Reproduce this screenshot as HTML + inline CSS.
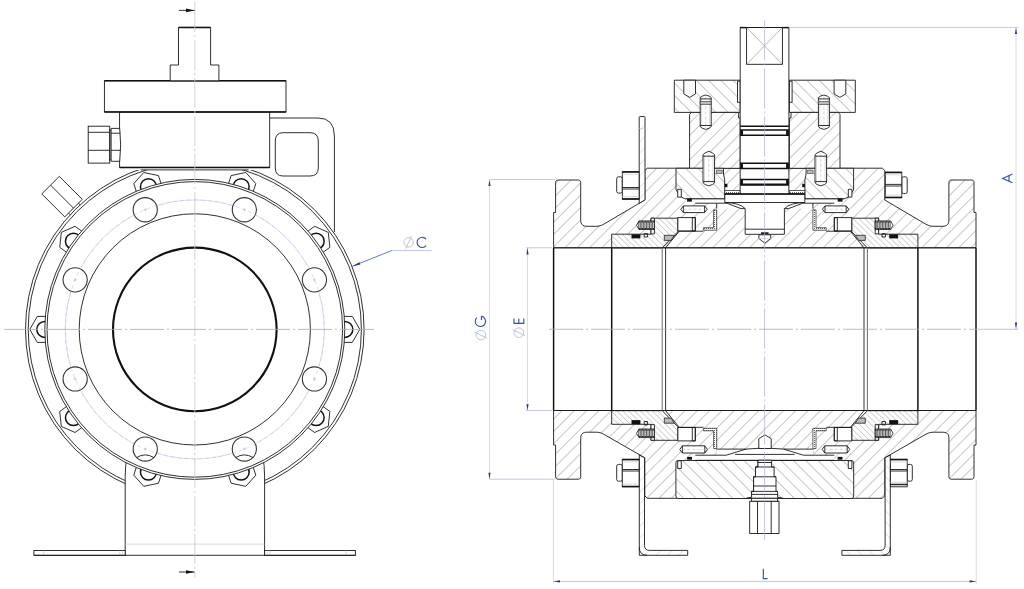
<!DOCTYPE html>
<html><head><meta charset="utf-8"><title>Ball valve drawing</title><style>
html,body{margin:0;padding:0;background:#fff;}
svg{display:block;}
.k{fill:none;stroke:#1a1a1a;stroke-width:0.9}
.kw{fill:#fff;stroke:#1a1a1a;stroke-width:0.9}
.w0{fill:#fff;stroke:none}
.kg{fill:none;stroke:#777;stroke-width:1.1}
.kt{fill:none;stroke:#111;stroke-width:1.5}
.kb{fill:none;stroke:#111;stroke-width:2.1}
.kh{fill:#fff;stroke:#333;stroke-width:1.1}
.kf{fill:#111;stroke:none}
.lg{fill:none;stroke:#c8c8c8;stroke-width:0.7}
.bc{fill:none;stroke:#b6c0e4;stroke-width:0.55}
.bc2{fill:none;stroke:#b4bde0;stroke-width:0.5;stroke-dasharray:4 3}
.bl{fill:none;stroke:#9db0dc;stroke-width:0.6}
.cg{fill:none;stroke:#c8c8cc;stroke-width:0.8;stroke-dasharray:30 3 2 3}
.cv{fill:none;stroke:#a9b0cc;stroke-width:0.7;stroke-dasharray:40 3 2 3}
.cb{fill:none;stroke:#a3a8d2;stroke-width:0.8;stroke-dasharray:34 3 2 3}
.bd{fill:none;stroke:#3b5cab;stroke-width:0.8}
.bx{fill:none;stroke:#b7c4e4;stroke-width:0.9}
.cx{fill:none;stroke:#b4b8dc;stroke-width:0.8}
.dl{fill:none;stroke:#d6d8de;stroke-width:0.9}
.bf{fill:#1e3c8c;stroke:none}
.hA{fill:url(#pA);stroke:#1a1a1a;stroke-width:0.9}
.hB{fill:url(#pB);stroke:#1a1a1a;stroke-width:0.9}
.hS{fill:url(#pS);stroke:#1a1a1a;stroke-width:0.9}
.hC{fill:url(#pC);stroke:#1a1a1a;stroke-width:0.9}
.gb{fill:#bbb;stroke:#333;stroke-width:0.6}
.dt{fill:url(#pD);stroke:#222;stroke-width:0.7}
.sp{fill:#222;stroke:#111;stroke-width:0.6}
.spo{fill:#fff;stroke:#111;stroke-width:0.8}
.spl{stroke:#222;stroke-width:0.75}
.spt{stroke:#111;stroke-width:1.2;stroke-dasharray:0.9 0.65}
.spw{stroke:#ddd;stroke-width:0.6}
.gi{fill:#bbb;stroke:#222;stroke-width:0.8}
.cd{fill:none;stroke:#aab;stroke-width:0.5;stroke-dasharray:3 2}
.lg2{fill:none;stroke:#888;stroke-width:0.6}
.tl{fill:none;stroke:#3b519d;stroke-width:1.15}
.ph{fill:none;stroke:#aeb6cf;stroke-width:0.8}
.tx{font-family:"Liberation Sans",sans-serif;font-size:14px;fill:#2f4f9f}
</style></head>
<body><svg width="1024" height="589" viewBox="0 0 1024 589">
<rect width="1024" height="589" fill="#fff"/>
<defs>
<pattern id="pA" width="8.7" height="20" patternUnits="userSpaceOnUse" patternTransform="rotate(45)"><rect width="8.7" height="20" fill="#fff"/><line x1="0" y1="0" x2="0" y2="20" stroke="#444" stroke-width="0.6"/></pattern>
<pattern id="pB" width="8.7" height="20" patternUnits="userSpaceOnUse" patternTransform="rotate(-45)"><rect width="8.7" height="20" fill="#fff"/><line x1="0" y1="0" x2="0" y2="20" stroke="#444" stroke-width="0.6"/></pattern>
<pattern id="pS" width="4.15" height="20" patternUnits="userSpaceOnUse" patternTransform="rotate(-45)"><rect width="4.15" height="20" fill="#fff"/><line x1="0" y1="0" x2="0" y2="20" stroke="#555" stroke-width="0.55"/></pattern>
<pattern id="pC" width="8" height="20" patternUnits="userSpaceOnUse" patternTransform="rotate(45)"><rect width="8" height="20" fill="#fff"/><line x1="0" y1="0" x2="0" y2="20" stroke="#aaa" stroke-width="0.6"/></pattern>
<pattern id="pD" width="2" height="2" patternUnits="userSpaceOnUse"><rect width="2" height="2" fill="#fff"/><rect width="1" height="1" fill="#666"/></pattern>
<clipPath id="clipTop"><rect x="0" y="169.9" width="1024" height="420"/></clipPath>
</defs>
<polygon points="71.06,215.56 68.23,212.73 78.13,202.83 80.96,205.66" class="kw"/>
<polygon points="64.76,216.9 41.78,193.92 59.32,176.38 82.3,199.36" class="kw"/>
<line x1="73.53" y1="208.13" x2="50.55" y2="185.15" class="k"/>
<path d="M269.5,118 L318,118 Q334.4,118 334.4,136 L334.4,232" class="kw"/>
<path d="M283,132.7 L310,132.7 Q318.3,132.7 318.3,141 L318.3,168 Q318.3,176 310,176 L283,176 Q275.3,176 275.3,168 L275.3,141 Q275.3,132.7 283,132.7 Z" class="k"/>
<g clip-path="url(#clipTop)">
<circle cx="194.8" cy="329.4" r="169.3" class="kw"/>
<circle cx="194.8" cy="329.4" r="166.6" class="k"/>
</g>
<line x1="140.7" y1="169.9" x2="248.6" y2="169.9" class="k"/>
<rect x="125.2" y="440" width="139.4" height="115.3" class="w0"/>
<path d="M127.2,455 Q125.2,466 125.2,476 L125.2,555.3" class="k"/>
<path d="M262.6,455 Q264.6,466 264.6,476 L264.6,555.3" class="k"/>
<line x1="125.2" y1="544.1" x2="264.6" y2="544.1" class="lg"/>
<rect x="33.9" y="550.5" width="91.3" height="4.8" class="kw"/>
<rect x="264.6" y="550.5" width="90.8" height="4.8" class="kw"/>
<line x1="119.8" y1="550.5" x2="119.8" y2="555.3" class="lg"/>
<line x1="122.4" y1="550.5" x2="122.4" y2="555.3" class="lg"/>
<line x1="270" y1="550.5" x2="270" y2="555.3" class="lg"/>
<line x1="267.2" y1="550.5" x2="267.2" y2="555.3" class="lg"/>
<line x1="43.6" y1="550.5" x2="43.6" y2="555.3" class="lg"/>
<line x1="346" y1="550.5" x2="346" y2="555.3" class="lg"/>
<line x1="33.9" y1="555.3" x2="355.4" y2="555.3" class="k"/>
<polygon points="359.8,329.4 352.3,316.41 337.3,316.41 329.8,329.4 337.3,342.39 352.3,342.39" class="kw"/>
<circle cx="344.8" cy="329.4" r="8" class="kt"/>
<polygon points="328.29,232.42 314.58,226.31 302.45,235.13 304.02,250.05 317.72,256.15 329.86,247.33" class="kw"/>
<circle cx="316.15" cy="241.23" r="8" class="kt"/>
<polygon points="245.79,172.48 231.12,175.59 226.48,189.86 236.52,201.01 251.19,197.89 255.82,183.62" class="kw"/>
<circle cx="241.15" cy="186.74" r="8" class="kt"/>
<polygon points="143.81,172.48 133.78,183.62 138.41,197.89 153.08,201.01 163.12,189.86 158.48,175.59" class="kw"/>
<circle cx="148.45" cy="186.74" r="8" class="kt"/>
<polygon points="61.31,232.42 59.74,247.33 71.88,256.15 85.58,250.05 87.15,235.13 75.02,226.31" class="kw"/>
<circle cx="73.45" cy="241.23" r="8" class="kt"/>
<polygon points="29.8,329.4 37.3,342.39 52.3,342.39 59.8,329.4 52.3,316.41 37.3,316.41" class="kw"/>
<circle cx="44.8" cy="329.4" r="8" class="kt"/>
<polygon points="61.31,426.38 75.02,432.49 87.15,423.67 85.58,408.75 71.88,402.65 59.74,411.47" class="kw"/>
<circle cx="73.45" cy="417.57" r="8" class="kt"/>
<polygon points="143.81,486.32 158.48,483.21 163.12,468.94 153.08,457.79 138.41,460.91 133.78,475.18" class="kw"/>
<circle cx="148.45" cy="472.06" r="8" class="kt"/>
<polygon points="245.79,486.32 255.82,475.18 251.19,460.91 236.52,457.79 226.48,468.94 231.12,483.21" class="kw"/>
<circle cx="241.15" cy="472.06" r="8" class="kt"/>
<polygon points="328.29,426.38 329.86,411.47 317.72,402.65 304.02,408.75 302.45,423.67 314.58,432.49" class="kw"/>
<circle cx="316.15" cy="417.57" r="8" class="kt"/>
<circle cx="194.8" cy="329.4" r="150" class="kw"/>
<circle cx="194.8" cy="329.4" r="147.8" class="k"/>
<circle cx="194.8" cy="329.4" r="115.6" class="k"/>
<circle cx="194.8" cy="329.4" r="129.5" class="bc"/>
<circle cx="314.44" cy="279.84" r="12.1" class="kh"/>
<line x1="312.94" y1="279.84" x2="315.94" y2="279.84" class="bl"/>
<line x1="314.44" y1="278.34" x2="314.44" y2="281.34" class="bl"/>
<circle cx="244.36" cy="209.76" r="12.1" class="kh"/>
<line x1="242.86" y1="209.76" x2="245.86" y2="209.76" class="bl"/>
<line x1="244.36" y1="208.26" x2="244.36" y2="211.26" class="bl"/>
<circle cx="145.24" cy="209.76" r="12.1" class="kh"/>
<line x1="143.74" y1="209.76" x2="146.74" y2="209.76" class="bl"/>
<line x1="145.24" y1="208.26" x2="145.24" y2="211.26" class="bl"/>
<circle cx="75.16" cy="279.84" r="12.1" class="kh"/>
<line x1="73.66" y1="279.84" x2="76.66" y2="279.84" class="bl"/>
<line x1="75.16" y1="278.34" x2="75.16" y2="281.34" class="bl"/>
<circle cx="75.16" cy="378.96" r="12.1" class="kh"/>
<line x1="73.66" y1="378.96" x2="76.66" y2="378.96" class="bl"/>
<line x1="75.16" y1="377.46" x2="75.16" y2="380.46" class="bl"/>
<circle cx="145.24" cy="449.04" r="12.1" class="kh"/>
<line x1="143.74" y1="449.04" x2="146.74" y2="449.04" class="bl"/>
<line x1="145.24" y1="447.54" x2="145.24" y2="450.54" class="bl"/>
<path d="M136.64,457.54 Q145.24,452.24 153.84,457.54" class="k"/>
<circle cx="244.36" cy="449.04" r="12.1" class="kh"/>
<line x1="242.86" y1="449.04" x2="245.86" y2="449.04" class="bl"/>
<line x1="244.36" y1="447.54" x2="244.36" y2="450.54" class="bl"/>
<path d="M235.76,457.54 Q244.36,452.24 252.96,457.54" class="k"/>
<circle cx="314.44" cy="378.96" r="12.1" class="kh"/>
<line x1="312.94" y1="378.96" x2="315.94" y2="378.96" class="bl"/>
<line x1="314.44" y1="377.46" x2="314.44" y2="380.46" class="bl"/>
<circle cx="194.8" cy="329.4" r="129.5" class="bc2"/>
<circle cx="194.8" cy="329.4" r="81.8" class="kb"/>
<rect x="119.6" y="111.9" width="150.1" height="55.5" class="kw"/>
<line x1="119.6" y1="167.4" x2="269.7" y2="167.4" class="kt"/>
<rect x="104.4" y="80.8" width="181.6" height="31.1" class="kw"/>
<line x1="104.4" y1="80.8" x2="286" y2="80.8" class="kt"/>
<line x1="104.4" y1="111.9" x2="286" y2="111.9" class="kt"/>
<polygon points="178.5,27.4 210.6,27.4 210.6,65 218.9,65 218.9,80.8 170.2,80.8 170.2,65 178.5,65" class="kw"/>
<line x1="178.5" y1="27.4" x2="210.6" y2="27.4" class="kt"/>
<rect x="88.2" y="126.2" width="21.5" height="36.9" class="kw"/>
<line x1="88.2" y1="132.3" x2="109.7" y2="132.3" class="k"/>
<line x1="88.2" y1="150.3" x2="109.7" y2="150.3" class="k"/>
<rect x="109.7" y="130" width="1.4" height="29.9" class="kw"/>
<path d="M111.1,128.4 L119.7,128.4 Q121.6,145 119.7,161.3 L111.1,161.3 Z" class="kw"/>
<line x1="111.1" y1="133.2" x2="120.4" y2="133.2" class="k"/>
<line x1="111.1" y1="150.3" x2="120.6" y2="150.3" class="k"/>
<line x1="194.8" y1="2" x2="194.8" y2="578" class="cg"/>
<line x1="4" y1="329.4" x2="374" y2="329.4" class="cb"/>
<line x1="179" y1="10.4" x2="194.5" y2="10.4" class="k"/>
<polygon points="194.5,10.4 186,8.6 186,12.2" class="kf"/>
<line x1="179" y1="572" x2="194.5" y2="572" class="k"/>
<polygon points="194.5,572 186,570.2 186,573.8" class="kf"/>
<line x1="352.2" y1="266.3" x2="391.9" y2="250.5" class="bd"/>
<line x1="391.9" y1="250.5" x2="431.6" y2="250.5" class="bx"/>
<polygon points="352.2,266.3 359.5,262.2 360.4,264.5" class="bf"/>
<polygon points="553.6,247.8 553.6,212.5 555.6,212.5 555.6,182.5 555.88,181.11 556.71,180.28 558.1,180 578.2,180 579.59,180.28 580.42,181.11 580.7,182.5 580.7,220.3 580.94,222.46 581.66,224.14 582.86,225.34 584.54,226.06 586.7,226.3 596.2,226.3 598.81,226.07 601.29,225.4 603.65,224.27 644.8,200 644.8,170.5 647.2,168.2 882.4,168.2 884.8,170.5 884.8,200 925.95,224.27 928.31,225.4 930.79,226.07 933.4,226.3 942.9,226.3 945.06,226.06 946.74,225.34 947.94,224.14 948.66,222.46 948.9,220.3 948.9,182.5 949.18,181.11 950.01,180.28 951.4,180 971.5,180 972.89,180.28 973.72,181.11 974,182.5 974,212.5 976,212.5 976,247.8" class="hA"/>
<polygon points="553.6,410.5 553.6,445 555.6,445 555.6,476.7 555.88,478.09 556.71,478.92 558.1,479.2 578.2,479.2 579.59,478.92 580.42,478.09 580.7,476.7 580.7,438.2 580.94,436.04 581.66,434.36 582.86,433.16 584.54,432.44 586.7,432.2 596.2,432.2 598.81,432.42 601.3,433.09 603.67,434.19 644.8,457.8 644.8,495.8 647.2,498.3 882.4,498.3 884.8,495.8 884.8,457.8 925.93,434.19 928.3,433.09 930.79,432.42 933.4,432.2 942.9,432.2 945.06,432.44 946.74,433.16 947.94,434.36 948.66,436.04 948.9,438.2 948.9,476.7 949.18,478.09 950.01,478.92 951.4,479.2 971.5,479.2 972.89,478.92 973.72,478.09 974,476.7 974,445 976,445 976,410.5" class="hA"/>
<polygon points="674.3,80.2 740.2,80.2 740.2,112.4 674.3,112.4" class="hB"/>
<polygon points="855.3,80.2 789.4,80.2 789.4,112.4 855.3,112.4" class="hB"/>
<polygon points="737.5,81.2 740.2,81.2 740.2,102.3 737.5,102.3" class="kw"/>
<polygon points="792.1,81.2 789.4,81.2 789.4,102.3 792.1,102.3" class="kw"/>
<polygon points="683.8,80.2 683.8,93.9 689.7,97.4 695.5,93.9 695.5,80.2" class="kw"/>
<polygon points="845.8,80.2 845.8,93.9 839.9,97.4 834.1,93.9 834.1,80.2" class="kw"/>
<polygon points="689.6,114.4 691.6,112.4 738.6,112.4 738.6,118 740.2,118 740.2,168.3 689.6,168.3" class="hA"/>
<polygon points="840,114.4 838,112.4 791,112.4 791,118 789.4,118 789.4,168.3 840,168.3" class="hA"/>
<polygon points="700.2,97.6 702.3,96.09 705.7,95 709.1,96.09 711.2,97.6 711.2,126.7 709.1,128.27 705.7,129.4 702.3,128.27 700.2,126.7" class="kw"/>
<polygon points="829.4,97.6 827.3,96.09 823.9,95 820.5,96.09 818.4,97.6 818.4,126.7 820.5,128.27 823.9,129.4 827.3,128.27 829.4,126.7" class="kw"/>
<line x1="701.7" y1="97.6" x2="701.7" y2="126.7" class="lg"/>
<line x1="827.9" y1="97.6" x2="827.9" y2="126.7" class="lg"/>
<line x1="709.7" y1="97.6" x2="709.7" y2="126.7" class="lg"/>
<line x1="819.9" y1="97.6" x2="819.9" y2="126.7" class="lg"/>
<line x1="705.7" y1="96.6" x2="705.7" y2="127.7" class="cd"/>
<line x1="823.9" y1="96.6" x2="823.9" y2="127.7" class="cd"/>
<line x1="700.2" y1="98.9" x2="711.2" y2="98.9" class="k"/>
<line x1="829.4" y1="98.9" x2="818.4" y2="98.9" class="k"/>
<line x1="700.2" y1="125.5" x2="711.2" y2="125.5" class="k"/>
<line x1="829.4" y1="125.5" x2="818.4" y2="125.5" class="k"/>
<polygon points="700.2,101.5 711.2,101.5 711.2,104.5 700.2,104.5" class="gb"/>
<polygon points="829.4,101.5 818.4,101.5 818.4,104.5 829.4,104.5" class="gb"/>
<polygon points="676,168.3 723.5,168.3 723.5,174 724.7,180 724.7,198.9 685.5,198.9 681.3,197.1 676,190" class="hB"/>
<polygon points="853.6,168.3 806.1,168.3 806.1,174 804.9,180 804.9,198.9 844.1,198.9 848.3,197.1 853.6,190" class="hB"/>
<polygon points="677.7,189.3 681.3,189.3 681.3,197.1 677.7,197.1" class="kw"/>
<polygon points="851.9,189.3 848.3,189.3 848.3,197.1 851.9,197.1" class="kw"/>
<polygon points="716.5,170.2 722.2,170.2 722.2,173.5 716.5,173.5" class="gb"/>
<polygon points="813.1,170.2 807.4,170.2 807.4,173.5 813.1,173.5" class="gb"/>
<polygon points="703,154.9 705.1,152.81 708.8,151.3 712.5,152.81 714.6,154.9 714.6,182.8 712.5,184.54 708.8,185.8 705.1,184.54 703,182.8" class="kw"/>
<polygon points="826.6,154.9 824.5,152.81 820.8,151.3 817.1,152.81 815,154.9 815,182.8 817.1,184.54 820.8,185.8 824.5,184.54 826.6,182.8" class="kw"/>
<line x1="704.5" y1="154.9" x2="704.5" y2="182.8" class="lg"/>
<line x1="825.1" y1="154.9" x2="825.1" y2="182.8" class="lg"/>
<line x1="713.1" y1="154.9" x2="713.1" y2="182.8" class="lg"/>
<line x1="816.5" y1="154.9" x2="816.5" y2="182.8" class="lg"/>
<line x1="708.8" y1="153.9" x2="708.8" y2="183.8" class="cd"/>
<line x1="820.8" y1="153.9" x2="820.8" y2="183.8" class="cd"/>
<line x1="703" y1="156.2" x2="714.6" y2="156.2" class="k"/>
<line x1="826.6" y1="156.2" x2="815" y2="156.2" class="k"/>
<line x1="703" y1="181.6" x2="714.6" y2="181.6" class="k"/>
<line x1="826.6" y1="181.6" x2="815" y2="181.6" class="k"/>
<polygon points="724.7,190.5 740.2,190.5 740.2,193.7 724.7,193.7" class="dt"/>
<polygon points="804.9,190.5 789.4,190.5 789.4,193.7 804.9,193.7" class="dt"/>
<polygon points="724.7,183.8 727.4,183.8 727.4,187.2 724.7,187.2" class="kf"/>
<polygon points="804.9,183.8 802.2,183.8 802.2,187.2 804.9,187.2" class="kf"/>
<polygon points="687.1,198.7 691.9,198.7 691.9,201.6 687.1,201.6" class="kf"/>
<polygon points="842.5,198.7 837.7,198.7 837.7,201.6 842.5,201.6" class="kf"/>
<polygon points="685.5,198.9 724.8,198.9 724.8,203.2 685.5,203.2" class="w0"/>
<polygon points="844.1,198.9 804.8,198.9 804.8,203.2 844.1,203.2" class="w0"/>
<polygon points="716.7,203.2 724.8,203.2 724.8,201.2 745.2,201.2 745.2,208.6 716.7,208.6" class="w0"/>
<polygon points="812.9,203.2 804.8,203.2 804.8,201.2 784.4,201.2 784.4,208.6 812.9,208.6" class="w0"/>
<polygon points="716.2,449.1 813.4,449.1 813.4,455.2 716.2,455.2" class="w0"/>
<polygon points="695.3,455.2 834.3,455.2 834.3,460.3 695.3,460.3" class="w0"/>
<polygon points="687.1,198.7 691.9,198.7 691.9,201.6 687.1,201.6" class="kf"/>
<polygon points="842.5,198.7 837.7,198.7 837.7,201.6 842.5,201.6" class="kf"/>
<polyline points="685.5,198.9 724.7,198.9" class="k"/>
<polyline points="844.1,198.9 804.9,198.9" class="k"/>
<polyline points="695.3,203.2 726.8,203.2 741,208.6 745.2,208.6" class="k"/>
<polyline points="834.3,203.2 802.8,203.2 788.6,208.6 784.4,208.6" class="k"/>
<polyline points="716.7,203.2 716.7,208.6" class="k"/>
<polyline points="812.9,203.2 812.9,208.6" class="k"/>
<polyline points="695.3,455.2 726.2,455.2 746,449.1" class="k"/>
<polyline points="834.3,455.2 803.4,455.2 783.6,449.1" class="k"/>
<path d="M716.2,449.1 L746,449.1 Q764.8,446.8 783.6,449.1 L813.4,449.1" class="k"/>
<line x1="735" y1="454.4" x2="794.6" y2="454.4" class="k"/>
<line x1="716.2" y1="449.1" x2="716.2" y2="454.6" class="lg"/>
<line x1="813.4" y1="449.1" x2="813.4" y2="454.6" class="lg"/>
<polygon points="713.6,209.9 716.7,209.9 716.7,230.2 703.4,230.2 703.4,227.7 713.6,227.7" class="dt"/>
<polygon points="816,209.9 812.9,209.9 812.9,230.2 826.2,230.2 826.2,227.7 816,227.7" class="dt"/>
<polygon points="713.6,448.6 716.7,448.6 716.7,428.3 703.4,428.3 703.4,430.8 713.6,430.8" class="dt"/>
<polygon points="816,448.6 812.9,448.6 812.9,428.3 826.2,428.3 826.2,430.8 816,430.8" class="dt"/>
<polygon points="677.7,217.6 695.3,217.6 695.3,231 677.7,231" class="kw"/>
<polygon points="851.9,217.6 834.3,217.6 834.3,231 851.9,231" class="kw"/>
<polygon points="677.7,440.9 695.3,440.9 695.3,427.5 677.7,427.5" class="kw"/>
<polygon points="851.9,440.9 834.3,440.9 834.3,427.5 851.9,427.5" class="kw"/>
<polygon points="692.3,217.6 695.3,217.6 695.3,231 692.3,231" class="k"/>
<polygon points="837.3,217.6 834.3,217.6 834.3,231 837.3,231" class="k"/>
<polygon points="692.3,440.9 695.3,440.9 695.3,427.5 692.3,427.5" class="k"/>
<polygon points="837.3,440.9 834.3,440.9 834.3,427.5 837.3,427.5" class="k"/>
<polyline points="677.7,231.2 703.4,231.2" class="k"/>
<polyline points="851.9,231.2 826.2,231.2" class="k"/>
<polyline points="677.7,427.3 703.4,427.3" class="k"/>
<polyline points="851.9,427.3 826.2,427.3" class="k"/>
<polygon points="680.8,209.25 683.4,205.9 704.6,205.9 707.2,209.25 704.6,212.6 683.4,212.6" class="kw"/>
<line x1="683.4" y1="205.9" x2="683.4" y2="212.6" class="k"/>
<line x1="704.6" y1="205.9" x2="704.6" y2="212.6" class="k"/>
<line x1="683.4" y1="209.25" x2="704.6" y2="209.25" class="cd"/>
<polygon points="822.4,209.25 825,205.9 846.2,205.9 848.8,209.25 846.2,212.6 825,212.6" class="kw"/>
<line x1="825" y1="205.9" x2="825" y2="212.6" class="k"/>
<line x1="846.2" y1="205.9" x2="846.2" y2="212.6" class="k"/>
<line x1="825" y1="209.25" x2="846.2" y2="209.25" class="cd"/>
<polygon points="679.8,449.4 682.4,445.8 704.8,445.8 707.4,449.4 704.8,453 682.4,453" class="kw"/>
<line x1="682.4" y1="445.8" x2="682.4" y2="453" class="k"/>
<line x1="704.8" y1="445.8" x2="704.8" y2="453" class="k"/>
<line x1="682.4" y1="449.4" x2="704.8" y2="449.4" class="cd"/>
<polygon points="822.2,449.4 824.8,445.8 847.2,445.8 849.8,449.4 847.2,453 824.8,453" class="kw"/>
<line x1="824.8" y1="445.8" x2="824.8" y2="453" class="k"/>
<line x1="847.2" y1="445.8" x2="847.2" y2="453" class="k"/>
<line x1="824.8" y1="449.4" x2="847.2" y2="449.4" class="cd"/>
<polyline points="678.9,231.6 665.6,247.8" class="k"/>
<polyline points="850.7,231.6 864,247.8" class="k"/>
<polyline points="678.9,426.9 665.6,410.7" class="k"/>
<polyline points="850.7,426.9 864,410.7" class="k"/>
<polygon points="611.7,247.8 611.7,234.2 651,234.2 651,218.2 677.7,218.2 677.7,231.9 662.2,247.8" class="hS"/>
<polygon points="917.9,247.8 917.9,234.2 878.6,234.2 878.6,218.2 851.9,218.2 851.9,231.9 867.4,247.8" class="hS"/>
<polygon points="611.7,410.7 611.7,424.3 651,424.3 651,440.3 677.7,440.3 677.7,426.6 662.2,410.7" class="hS"/>
<polygon points="917.9,410.7 917.9,424.3 878.6,424.3 878.6,440.3 851.9,440.3 851.9,426.6 867.4,410.7" class="hS"/>
<polygon points="651,218.2 654.4,218.2 654.4,233.9 651,233.9" class="kw"/>
<polygon points="878.6,218.2 875.2,218.2 875.2,233.9 878.6,233.9" class="kw"/>
<polygon points="651,440.3 654.4,440.3 654.4,424.6 651,424.6" class="kw"/>
<polygon points="878.6,440.3 875.2,440.3 875.2,424.6 878.6,424.6" class="kw"/>
<polygon points="636.5,225.2 639,220.9 654.4,220.9 654.4,229.5 639,229.5" class="spo"/>
<line x1="638.7" y1="221.5" x2="638.7" y2="228.9" class="spl"/>
<line x1="640.25" y1="221.5" x2="640.25" y2="228.9" class="spl"/>
<line x1="641.8" y1="221.5" x2="641.8" y2="228.9" class="spl"/>
<line x1="643.35" y1="221.5" x2="643.35" y2="228.9" class="spl"/>
<line x1="644.9" y1="221.5" x2="644.9" y2="228.9" class="spl"/>
<line x1="646.45" y1="221.5" x2="646.45" y2="228.9" class="spl"/>
<line x1="648" y1="221.5" x2="648" y2="228.9" class="spl"/>
<line x1="649.55" y1="221.5" x2="649.55" y2="228.9" class="spl"/>
<line x1="651.1" y1="221.5" x2="651.1" y2="228.9" class="spl"/>
<line x1="652.65" y1="221.5" x2="652.65" y2="228.9" class="spl"/>
<line x1="639" y1="221.8" x2="654.4" y2="221.8" class="spt"/>
<line x1="639" y1="228.6" x2="654.4" y2="228.6" class="spt"/>
<polygon points="893.1,225.2 890.6,220.9 875.2,220.9 875.2,229.5 890.6,229.5" class="spo"/>
<line x1="876.2" y1="221.5" x2="876.2" y2="228.9" class="spl"/>
<line x1="877.75" y1="221.5" x2="877.75" y2="228.9" class="spl"/>
<line x1="879.3" y1="221.5" x2="879.3" y2="228.9" class="spl"/>
<line x1="880.85" y1="221.5" x2="880.85" y2="228.9" class="spl"/>
<line x1="882.4" y1="221.5" x2="882.4" y2="228.9" class="spl"/>
<line x1="883.95" y1="221.5" x2="883.95" y2="228.9" class="spl"/>
<line x1="885.5" y1="221.5" x2="885.5" y2="228.9" class="spl"/>
<line x1="887.05" y1="221.5" x2="887.05" y2="228.9" class="spl"/>
<line x1="888.6" y1="221.5" x2="888.6" y2="228.9" class="spl"/>
<line x1="890.15" y1="221.5" x2="890.15" y2="228.9" class="spl"/>
<line x1="875.2" y1="221.8" x2="890.6" y2="221.8" class="spt"/>
<line x1="875.2" y1="228.6" x2="890.6" y2="228.6" class="spt"/>
<polygon points="636.5,433.3 639,429 654.4,429 654.4,437.6 639,437.6" class="spo"/>
<line x1="638.7" y1="429.6" x2="638.7" y2="437" class="spl"/>
<line x1="640.25" y1="429.6" x2="640.25" y2="437" class="spl"/>
<line x1="641.8" y1="429.6" x2="641.8" y2="437" class="spl"/>
<line x1="643.35" y1="429.6" x2="643.35" y2="437" class="spl"/>
<line x1="644.9" y1="429.6" x2="644.9" y2="437" class="spl"/>
<line x1="646.45" y1="429.6" x2="646.45" y2="437" class="spl"/>
<line x1="648" y1="429.6" x2="648" y2="437" class="spl"/>
<line x1="649.55" y1="429.6" x2="649.55" y2="437" class="spl"/>
<line x1="651.1" y1="429.6" x2="651.1" y2="437" class="spl"/>
<line x1="652.65" y1="429.6" x2="652.65" y2="437" class="spl"/>
<line x1="639" y1="429.9" x2="654.4" y2="429.9" class="spt"/>
<line x1="639" y1="436.7" x2="654.4" y2="436.7" class="spt"/>
<polygon points="893.1,433.3 890.6,429 875.2,429 875.2,437.6 890.6,437.6" class="spo"/>
<line x1="876.2" y1="429.6" x2="876.2" y2="437" class="spl"/>
<line x1="877.75" y1="429.6" x2="877.75" y2="437" class="spl"/>
<line x1="879.3" y1="429.6" x2="879.3" y2="437" class="spl"/>
<line x1="880.85" y1="429.6" x2="880.85" y2="437" class="spl"/>
<line x1="882.4" y1="429.6" x2="882.4" y2="437" class="spl"/>
<line x1="883.95" y1="429.6" x2="883.95" y2="437" class="spl"/>
<line x1="885.5" y1="429.6" x2="885.5" y2="437" class="spl"/>
<line x1="887.05" y1="429.6" x2="887.05" y2="437" class="spl"/>
<line x1="888.6" y1="429.6" x2="888.6" y2="437" class="spl"/>
<line x1="890.15" y1="429.6" x2="890.15" y2="437" class="spl"/>
<line x1="875.2" y1="429.9" x2="890.6" y2="429.9" class="spt"/>
<line x1="875.2" y1="436.7" x2="890.6" y2="436.7" class="spt"/>
<polygon points="631.5,234.3 640.4,234.3 640.4,238.4 631.5,238.4" class="kf"/>
<polygon points="898.1,234.3 889.2,234.3 889.2,238.4 898.1,238.4" class="kf"/>
<polygon points="631.5,424.2 640.4,424.2 640.4,420.1 631.5,420.1" class="kf"/>
<polygon points="898.1,424.2 889.2,424.2 889.2,420.1 898.1,420.1" class="kf"/>
<polygon points="644.2,233.6 647.6,233.6 647.6,237 644.2,237" class="k"/>
<polygon points="885.4,233.6 882,233.6 882,237 885.4,237" class="k"/>
<polygon points="644.2,424.9 647.6,424.9 647.6,421.5 644.2,421.5" class="k"/>
<polygon points="885.4,424.9 882,424.9 882,421.5 885.4,421.5" class="k"/>
<polygon points="664.3,235.3 674.3,235.3 671,240.4 664.3,240.4" class="gi"/>
<polygon points="865.3,235.3 855.3,235.3 858.6,240.4 865.3,240.4" class="gi"/>
<polygon points="664.3,423.2 674.3,423.2 671,418.1 664.3,418.1" class="gi"/>
<polygon points="865.3,423.2 855.3,423.2 858.6,418.1 865.3,418.1" class="gi"/>
<path d="M678,460.5 L851.2,460.5 Q853.7,460.5 853.7,463 L853.7,496 Q853.7,498.5 851.2,498.5 L678.4,498.5 Q675.9,498.5 675.9,496 L675.9,463 Q675.9,460.5 678,460.5 Z" class="hB"/>
<polygon points="677.7,460.8 681.3,460.8 681.3,468.5 677.7,468.5" class="kw"/>
<polygon points="851.9,460.8 848.3,460.8 848.3,468.5 851.9,468.5" class="kw"/>
<line x1="695.3" y1="460.3" x2="834.3" y2="460.3" class="k"/>
<polygon points="687.1,456.9 692,456.9 692,459.7 687.1,459.7" class="kf"/>
<polygon points="842.5,456.9 837.6,456.9 837.6,459.7 842.5,459.7" class="kf"/>
<polygon points="740.2,27.5 788.9,27.5 788.9,194.6 740.2,194.6" class="kw"/>
<line x1="740.2" y1="27.5" x2="788.9" y2="27.5" class="k"/>
<line x1="740.2" y1="27.6" x2="746.6" y2="27.6" class="kt"/>
<line x1="782.4" y1="27.6" x2="788.9" y2="27.6" class="kt"/>
<rect x="746.6" y="27.5" width="35.8" height="36.8" class="k"/>
<line x1="746.6" y1="27.5" x2="782.4" y2="64.3" class="lg2"/>
<line x1="782.4" y1="27.5" x2="746.6" y2="64.3" class="lg2"/>
<line x1="740.2" y1="126.3" x2="788.9" y2="126.3" class="kt"/>
<line x1="740.2" y1="129.9" x2="788.9" y2="129.9" class="kt"/>
<line x1="740.2" y1="135.2" x2="788.9" y2="135.2" class="kt"/>
<rect x="740.2" y="129.9" width="2.8" height="5.3" rx="1.2" class="kf"/>
<rect x="786.1" y="129.9" width="2.8" height="5.3" rx="1.2" class="kf"/>
<line x1="740.2" y1="163.3" x2="788.9" y2="163.3" class="kt"/>
<line x1="740.2" y1="168.4" x2="788.9" y2="168.4" class="kt"/>
<rect x="740.2" y="163.3" width="2.8" height="5.1" rx="1.2" class="kf"/>
<rect x="786.1" y="163.3" width="2.8" height="5.1" rx="1.2" class="kf"/>
<line x1="740.2" y1="179.6" x2="788.9" y2="179.6" class="kt"/>
<line x1="740.2" y1="184.3" x2="788.9" y2="184.3" class="kt"/>
<rect x="740.2" y="179.6" width="2.8" height="4.7" rx="1.2" class="kf"/>
<rect x="786.1" y="179.6" width="2.8" height="4.7" rx="1.2" class="kf"/>
<line x1="740.2" y1="185.4" x2="788.9" y2="185.4" class="k"/>
<path d="M724.8,194.1 L804.8,194.1 L804.8,202.5 Q790,202.8 784.4,208.6 L784.4,234.3 L745.2,234.3 L745.2,208.6 Q739.6,202.8 724.8,202.5 Z" class="kw"/>
<line x1="724.8" y1="202.5" x2="804.8" y2="202.5" class="k"/>
<line x1="724.8" y1="194.1" x2="804.8" y2="194.1" class="kt"/>
<line x1="745.2" y1="229.2" x2="784.4" y2="229.2" class="k"/>
<rect x="761" y="232.3" width="7.6" height="1.6" class="kf"/>
<path d="M758.9,234.8 L770.7,234.8 L770.7,238.5 L764.8,243.2 L758.9,238.5 Z" class="kw"/>
<line x1="758.9" y1="238.5" x2="770.7" y2="238.5" class="lg"/>
<path d="M639.2,117.5 Q639.2,116.5 640.2,116.5 L644,116.5 Q645,116.5 645,117.5 L645,199.8 L639.2,203.4 Z" class="hC"/>
<line x1="639.2" y1="128.4" x2="645" y2="128.4" class="lg"/>
<path d="M639.3,455 L644.5,457.8 L644.5,545.4 Q644.5,550.4 649.5,550.4 L687.7,550.4 L687.7,555.3 L647.3,555.3 Q639.3,555.3 639.3,547.3 Z M639.3,547.3 L639.3,555.3 L647.3,555.3" class="hC"/>
<path d="M639.3,455 L644.5,457.8 L644.5,545.4 Q644.5,550.4 649.5,550.4 L687.7,550.4 L687.7,555.3 L647.3,555.3 Q639.3,555.3 639.3,547.3 Z M639.3,547.3 L639.3,555.3 L647.3,555.3" class="hC" transform="matrix(-1,0,0,1,1529.6,0)"/>
<rect x="616.7" y="176.8" width="5.6" height="16.3" rx="1.8" class="kw"/>
<rect x="622.3" y="171.7" width="16.8" height="27.5" class="kw"/>
<line x1="622.3" y1="172" x2="639.1" y2="172" class="kt"/>
<line x1="622.3" y1="198.9" x2="639.1" y2="198.9" class="kt"/>
<line x1="622.3" y1="187.5" x2="639.1" y2="187.5" class="k"/>
<line x1="622.3" y1="189" x2="639.1" y2="189" class="k"/>
<line x1="622.3" y1="174.3" x2="639.1" y2="174.3" class="lg"/>
<line x1="622.3" y1="196.6" x2="639.1" y2="196.6" class="lg"/>
<rect x="901.8" y="176.8" width="5.4" height="16.8" rx="1.8" class="kw"/>
<rect x="885.3" y="172.2" width="16.5" height="25.5" class="kw"/>
<line x1="885.3" y1="172.5" x2="901.8" y2="172.5" class="kt"/>
<line x1="885.3" y1="197.4" x2="901.8" y2="197.4" class="kt"/>
<line x1="885.3" y1="184.4" x2="901.8" y2="184.4" class="k"/>
<line x1="885.3" y1="186" x2="901.8" y2="186" class="k"/>
<line x1="885.3" y1="174.8" x2="901.8" y2="174.8" class="lg"/>
<line x1="885.3" y1="195.1" x2="901.8" y2="195.1" class="lg"/>
<rect x="616.7" y="464.4" width="5.6" height="16.8" rx="1.8" class="kw"/>
<rect x="622.3" y="459.3" width="16.8" height="27.5" class="kw"/>
<line x1="622.3" y1="459.6" x2="639.1" y2="459.6" class="kt"/>
<line x1="622.3" y1="486.5" x2="639.1" y2="486.5" class="kt"/>
<line x1="622.3" y1="469.5" x2="639.1" y2="469.5" class="k"/>
<line x1="622.3" y1="471" x2="639.1" y2="471" class="k"/>
<line x1="622.3" y1="461.9" x2="639.1" y2="461.9" class="lg"/>
<line x1="622.3" y1="484.2" x2="639.1" y2="484.2" class="lg"/>
<rect x="907.2" y="464.4" width="5.1" height="16.8" rx="1.8" class="kw"/>
<rect x="890.4" y="459.3" width="16.8" height="25.5" class="kw"/>
<line x1="890.4" y1="459.6" x2="907.2" y2="459.6" class="kt"/>
<line x1="890.4" y1="484.5" x2="907.2" y2="484.5" class="kt"/>
<line x1="890.4" y1="469.5" x2="907.2" y2="469.5" class="k"/>
<line x1="890.4" y1="471" x2="907.2" y2="471" class="k"/>
<line x1="890.4" y1="461.9" x2="907.2" y2="461.9" class="lg"/>
<line x1="890.4" y1="482.2" x2="907.2" y2="482.2" class="lg"/>
<rect x="890.4" y="484.8" width="16.8" height="2" class="kw"/>
<line x1="553.6" y1="247.8" x2="976" y2="247.8" class="k"/>
<line x1="553.6" y1="410.5" x2="976" y2="410.5" class="k"/>
<line x1="611.7" y1="247.8" x2="611.7" y2="410.5" class="kt"/>
<line x1="662.2" y1="247.8" x2="662.2" y2="410.5" class="kg"/>
<line x1="665.6" y1="247.8" x2="665.6" y2="410.5" class="k"/>
<line x1="867.4" y1="247.8" x2="867.4" y2="410.5" class="kg"/>
<line x1="864" y1="247.8" x2="864" y2="410.5" class="k"/>
<line x1="917.9" y1="247.8" x2="917.9" y2="410.5" class="kt"/>
<line x1="553.6" y1="247.8" x2="553.6" y2="410.5" class="kt"/>
<line x1="976" y1="247.8" x2="976" y2="410.5" class="kt"/>
<polyline points="758,460.2 758,467 755.5,467 755.5,476.8 753.6,476.8 753.6,491.4 751.6,491.4 751.6,497.3 746.7,498.3" class="k"/>
<polygon points="758,460.2 771.6,460.2 771.6,467 774.1,467 774.1,476.8 776,476.8 776,491.4 777.6,491.4 777.6,497.3 782.9,498.3 746.7,498.3 751.6,497.3 751.6,491.4 753.6,491.4 753.6,476.8 755.5,476.8 755.5,467 758,467" class="kw"/>
<line x1="758" y1="462.5" x2="771.6" y2="462.5" class="k"/>
<line x1="755.5" y1="467" x2="774.1" y2="467" class="k"/>
<line x1="753.6" y1="476.8" x2="776" y2="476.8" class="k"/>
<line x1="753.6" y1="486" x2="776" y2="486" class="k"/>
<line x1="751.6" y1="491.4" x2="777.6" y2="491.4" class="k"/>
<line x1="751.6" y1="494.4" x2="777.6" y2="494.4" class="k"/>
<rect x="749.7" y="501.2" width="29.3" height="32.3" class="kw"/>
<line x1="757.5" y1="501.2" x2="757.5" y2="533.5" class="k"/>
<line x1="771.2" y1="501.2" x2="771.2" y2="533.5" class="k"/>
<rect x="751.6" y="498.3" width="26" height="2.9" class="kw"/>
<path d="M758.8,448.5 L771.2,448.5 L771.2,438.7 L765,434.8 L758.8,438.7 Z" class="kw"/>
<line x1="764.6" y1="20.4" x2="764.6" y2="540" class="cv"/>
<line x1="549" y1="329.25" x2="976" y2="329.25" class="cb"/>
<line x1="976" y1="329.25" x2="1018.4" y2="329.25" class="cx"/>
<line x1="788.9" y1="27.4" x2="1018.4" y2="27.4" class="bx"/>
<line x1="1016" y1="27.4" x2="1016" y2="329.25" class="dl"/>
<polygon points="1016,27.4 1014.9,34 1017.1,34" class="bf"/>
<polygon points="1016,329.25 1014.9,322.5 1017.1,322.5" class="bf"/>
<line x1="489.5" y1="179.5" x2="555" y2="179.5" class="bx"/>
<line x1="489.5" y1="479.2" x2="555" y2="479.2" class="bx"/>
<line x1="489.5" y1="179.5" x2="489.5" y2="479.2" class="dl"/>
<polygon points="489.5,179.5 488.4,186 490.6,186" class="bf"/>
<polygon points="489.5,479.2 488.4,472.7 490.6,472.7" class="bf"/>
<line x1="526" y1="247.8" x2="552" y2="247.8" class="bx"/>
<line x1="526" y1="410.5" x2="552" y2="410.5" class="bx"/>
<line x1="527.5" y1="247.8" x2="527.5" y2="410.5" class="dl"/>
<polygon points="527.5,247.8 526.4,254.5 528.6,254.5" class="bf"/>
<polygon points="527.5,410.5 526.4,404.2 528.6,404.2" class="bf"/>
<line x1="553.4" y1="480" x2="553.4" y2="583.6" class="dl"/>
<line x1="976.2" y1="480" x2="976.2" y2="583.6" class="dl"/>
<line x1="553.4" y1="581.4" x2="976.2" y2="581.4" class="bx"/>
<polygon points="553.4,581.4 560,580.3 560,582.5" class="bf"/>
<polygon points="976.2,581.4 969.6,580.3 969.6,582.5" class="bf"/>
<g transform="translate(408.6,242.4) rotate(0)"><circle cx="0" cy="0" r="4.7" class="ph"/><line x1="-3" y1="6.2" x2="3" y2="-6.2" class="ph"/></g>
<path d="M426.11,245.68 A5.1,5.1 0 1 1 426.11,239.12" class="tl"/>
<g transform="translate(480.9,335.1) rotate(-90)"><circle cx="0" cy="0" r="4.8" class="ph"/><line x1="-3" y1="6.3" x2="3" y2="-6.3" class="ph"/></g>
<path d="M481.3,316.18 A5.2,5.2 0 1 1 476.72,317.62 M481.4,316.2 L481.4,320" class="tl"/>
<g transform="translate(518.9,332.7) rotate(-90)"><circle cx="0" cy="0" r="4.8" class="ph"/><line x1="-3" y1="6.3" x2="3" y2="-6.3" class="ph"/></g>
<polyline points="514,318.5 514,323.4 523.8,323.4 523.8,318.5" class="tl"/>
<line x1="518.8" y1="318.8" x2="518.8" y2="323.4" class="tl"/>
<polyline points="1012.5,174 1002.7,178.4 1012.5,182.8" class="tl"/>
<line x1="1009" y1="175.6" x2="1009" y2="181.2" class="tl"/>
<polyline points="763.3,568.7 763.3,578.6 767.6,578.6" class="tl"/>
</svg></body></html>
